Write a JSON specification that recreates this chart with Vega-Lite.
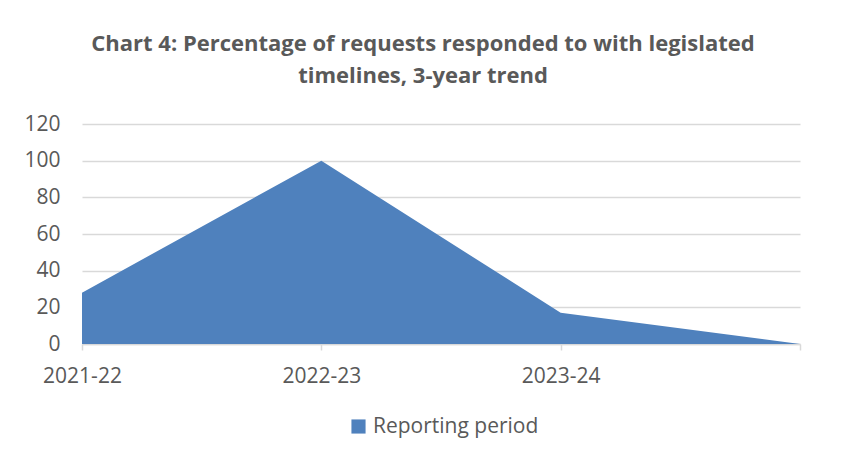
{
  "$schema": "https://vega.github.io/schema/vega-lite/v6.json",
  "autosize": "none",
  "width": 718,
  "height": 220,
  "padding": {"left": 82, "top": 124, "right": 59, "bottom": 120},
  "background": "white",
  "title": {
    "text": ["Chart 4: Percentage of requests responded to with legislated", "timelines, 3-year trend"],
    "font": "Open Sans",
    "fontWeight": "bold",
    "fontSize": 22,
    "color": "#595959",
    "anchor": "middle",
    "frame": "group",
    "dx": -18,
    "offset": 25,
    "lineHeight": 32
  },
  "data": {
    "values": [
      {"period": "2021-22", "value": 28, "series": "Reporting period"},
      {"period": "2022-23", "value": 100, "series": "Reporting period"},
      {"period": "2023-24", "value": 17, "series": "Reporting period"},
      {"period": " ", "value": 0, "series": "Reporting period"}
    ]
  },
  "mark": {"type": "area", "opacity": 1},
  "encoding": {
    "x": {
      "field": "period",
      "type": "ordinal",
      "sort": null,
      "scale": {"type": "point", "padding": 0},
      "axis": {
        "title": null,
        "labelAngle": 0,
        "labelFont": "Open Sans",
        "labelFontSize": 21,
        "labelColor": "#595959",
        "labelPadding": 15,
        "domainColor": "#D9D9D9",
        "domainWidth": 1.5,
        "tickColor": "#D9D9D9",
        "tickSize": 6,
        "tickWidth": 1.5,
        "grid": false
      }
    },
    "y": {
      "field": "value",
      "type": "quantitative",
      "scale": {"domain": [0, 120]},
      "axis": {
        "title": null,
        "values": [0, 20, 40, 60, 80, 100, 120],
        "labelFont": "Open Sans",
        "labelFontSize": 21,
        "labelColor": "#595959",
        "labelPadding": 22,
        "ticks": false,
        "domain": false,
        "gridColor": "#D9D9D9",
        "gridWidth": 1.5
      }
    },
    "color": {
      "field": "series",
      "type": "nominal",
      "scale": {"range": ["#4F81BD"]},
      "legend": {
        "title": null,
        "orient": "none",
        "legendX": 266,
        "legendY": 292,
        "symbolType": "square",
        "symbolSize": 200,
        "symbolOpacity": 1,
        "labelFont": "Open Sans",
        "labelFontSize": 21,
        "labelColor": "#595959",
        "labelOffset": 4,
        "labelLimit": 400
      }
    }
  },
  "config": {"view": {"stroke": null}}
}
